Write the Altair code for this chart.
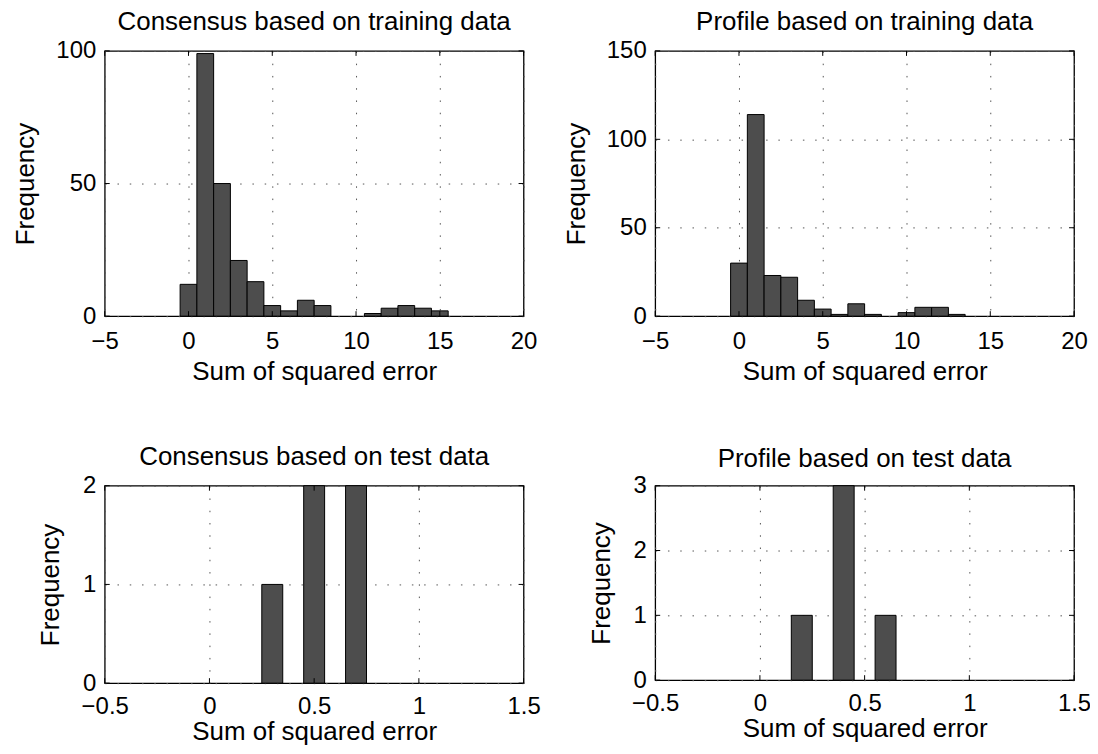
import altair as alt
import pandas as pd

FONT = "Liberation Sans"

# ---- data ----
titles = [
    "Consensus based on training data",
    "Profile based on training data",
    "Consensus based on test data",
    "Profile based on test data",
]

ctrain_centers = [0, 1, 2, 3, 4, 5, 6, 7, 8, 9, 10, 11, 12, 13, 14, 15]
ctrain_counts = [12, 99, 50, 21, 13, 4, 2, 6, 4, 0, 0, 1, 3, 4, 3, 2]

ptrain_centers = [0, 1, 2, 3, 4, 5, 6, 7, 8, 9, 10, 11, 12, 13]
ptrain_counts = [30, 114, 23, 22, 9, 4, 1, 7, 1, 0, 2, 5, 5, 1]

ctest_centers = [0.3, 0.5, 0.7]
ctest_counts = [1, 2, 2]

ptest_centers = [0.2, 0.4, 0.6]
ptest_counts = [1, 3, 1]

train_xticks = [-5, 0, 5, 10, 15, 20]
test_xticks = [-0.5, 0, 0.5, 1, 1.5]
ctrain_yticks = [0, 50, 100]
ptrain_yticks = [0, 50, 100, 150]
ctest_yticks = [0, 1, 2]
ptest_yticks = [0, 1, 2, 3]

TICK = 5


def panel(title, centers, counts, binw, xticks, yticks, w, h, ytitle_x, title_off,
          xtitle_y, xlab_pad):
    df = pd.DataFrame({"c": centers, "n": counts})
    df = df[df["n"] > 0].copy()
    df["x0"] = df["c"] - binw / 2
    df["x1"] = df["c"] + binw / 2

    xscale = alt.Scale(domain=[xticks[0], xticks[-1]], nice=False, zero=False)
    yscale = alt.Scale(domain=[yticks[0], yticks[-1]], nice=False, zero=False)
    common = dict(grid=True, gridDash=[1.5, 10.8], gridColor="#555", gridWidth=1,
                  ticks=False, tickSize=0, domain=False, labelOverlap=False,
                  labelFlush=False, format=".1~f")
    xaxis = alt.Axis(values=xticks, title="Sum of squared error", labelPadding=xlab_pad,
                     titleY=xtitle_y, titleBaseline="alphabetic", **common)
    yaxis = alt.Axis(values=yticks, title="Frequency", labelPadding=9,
                     titleX=ytitle_x, titleBaseline="alphabetic", **common)

    def X(f):
        return alt.X(f, type="quantitative", scale=xscale, axis=xaxis)

    def Y(f):
        return alt.Y(f, type="quantitative", scale=yscale, axis=yaxis)

    bars = alt.Chart(df).mark_rect(fill="#4d4d4d", stroke="black", strokeWidth=1).encode(
        x=X("x0"), x2="x1", y=Y("n"), y2=alt.datum(0)
    )
    tx = pd.DataFrame({"v": xticks})
    ty = pd.DataFrame({"v": yticks})
    rule = dict(color="black", strokeWidth=1)
    xb = alt.Chart(tx).mark_rule(**rule).encode(x=X("v"), y=alt.value(h), y2=alt.value(h - TICK))
    xt = alt.Chart(tx).mark_rule(**rule).encode(x=X("v"), y=alt.value(0), y2=alt.value(TICK))
    yl = alt.Chart(ty).mark_rule(**rule).encode(y=Y("v"), x=alt.value(0), x2=alt.value(TICK))
    yr = alt.Chart(ty).mark_rule(**rule).encode(y=Y("v"), x=alt.value(w), x2=alt.value(w - TICK))

    ttl = alt.Chart(pd.DataFrame({"t": [title]})).mark_text(
        font=FONT, fontSize=26, color="black", align="center", baseline="alphabetic"
    ).encode(text="t:N", x=alt.value(w / 2), y=alt.value(-title_off))

    return alt.layer(bars, xb, xt, yl, yr, ttl).properties(width=w, height=h)


tl = panel(titles[0], ctrain_centers, ctrain_counts, 1,
           train_xticks, ctrain_yticks, 420, 266, -71, 21, 64, 13)
tr = panel(titles[1], ptrain_centers, ptrain_counts, 1,
           train_xticks, ptrain_yticks, 420, 266, -71, 21, 64, 13)
bl = panel(titles[2], ctest_centers, ctest_counts, 0.1,
           test_xticks, ctest_yticks, 420, 198, -46, 20.5, 57, 11)
br = panel(titles[3], ptest_centers, ptest_counts, 0.1,
           test_xticks, ptest_yticks, 420, 195, -46, 19, 57, 11)

chart = alt.concat(
    tl, tr, bl, br, columns=2, spacing={"row": 170, "column": 132},
    bounds="flush", center=True,
).configure_view(
    stroke="black", strokeWidth=1.3
).configure_axis(
    labelFont=FONT, titleFont=FONT, labelFontSize=24, titleFontSize=26,
    labelColor="black", titleColor="black", titleFontWeight="normal",
).properties(
    padding={"left": 4, "top": -1, "right": -2, "bottom": -2},
    background="white",
)

chart.save("out.html", embed_options={"renderer": "svg", "actions": False})
